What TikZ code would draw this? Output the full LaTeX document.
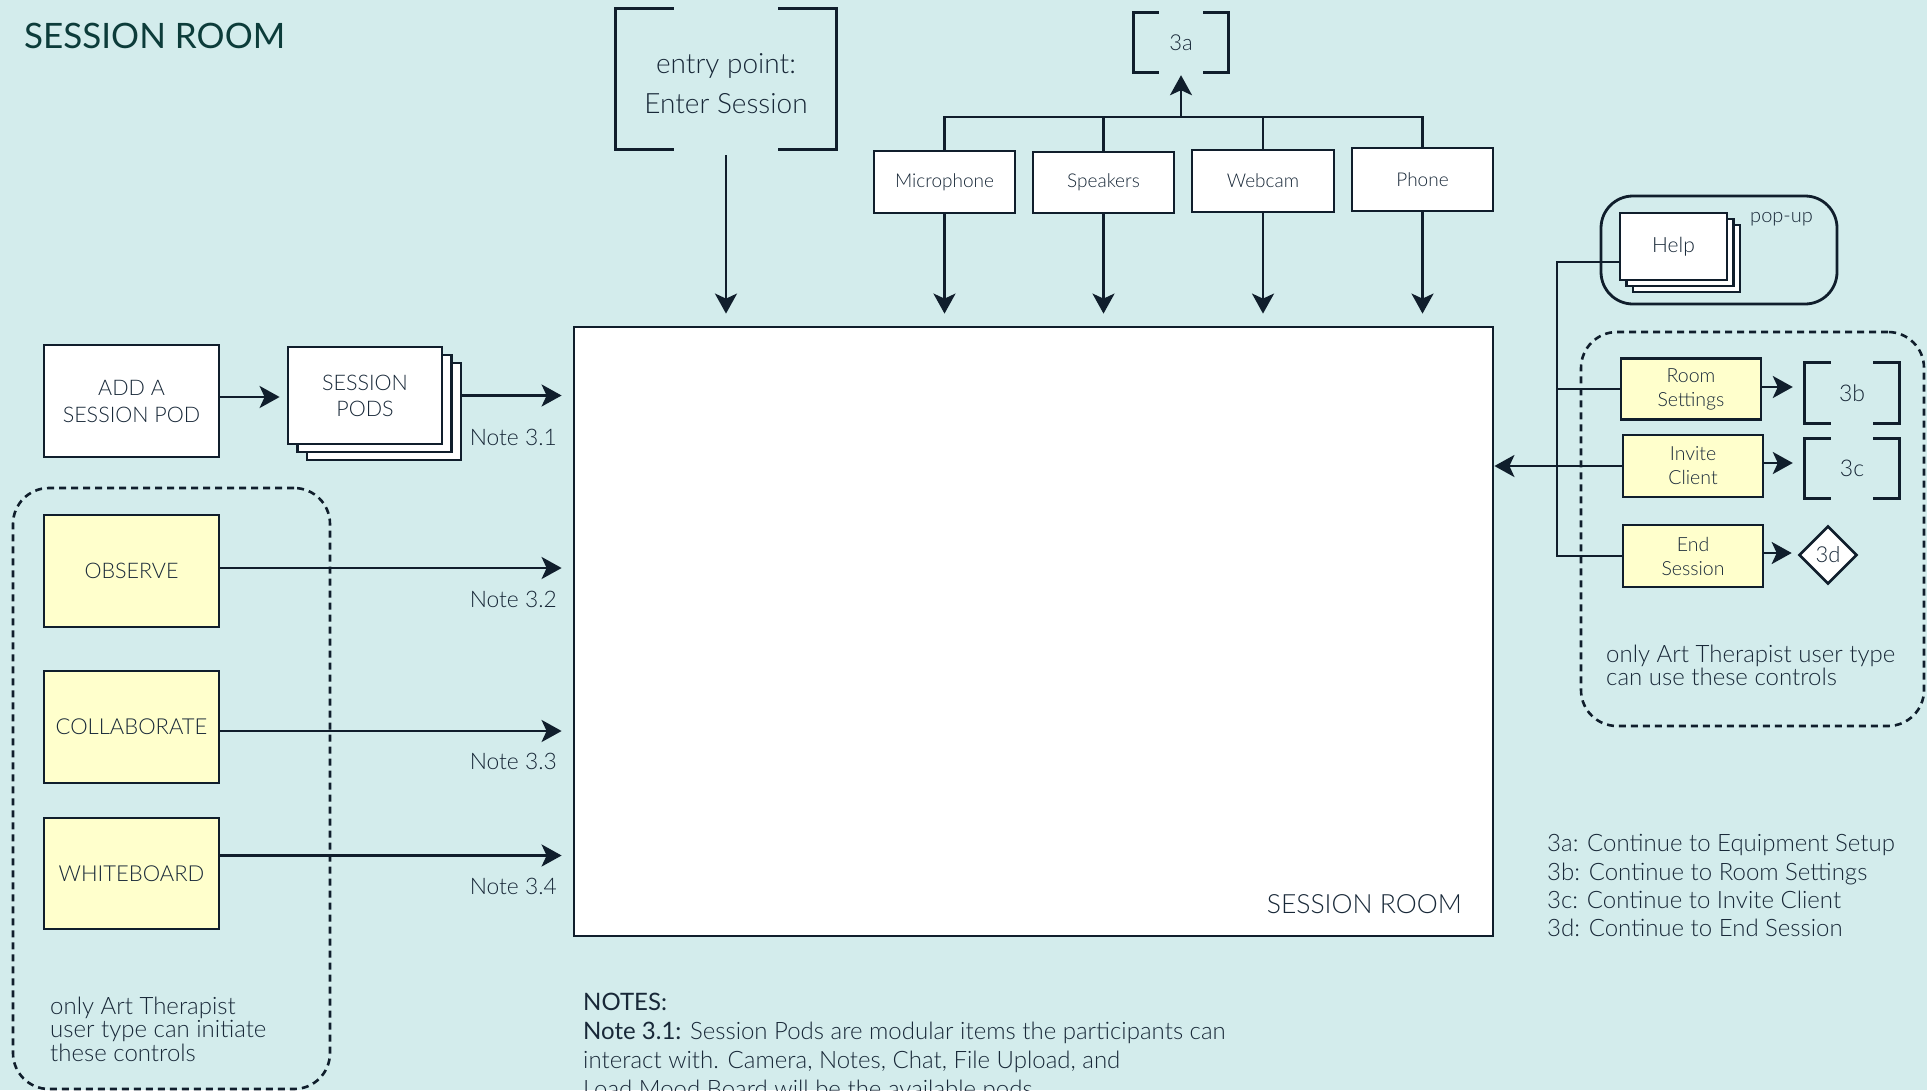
\documentclass[tikz,border=0pt]{standalone}
\usepackage{fontspec}
\IfFontExistsTF{Lato Light}
  {\setmainfont{Lato Light}[BoldFont={Lato}]}
  {\setmainfont{Lato}}
\usetikzlibrary{arrows.meta,shapes.geometric,shadows}

\definecolor{bg}{RGB}{211,236,236}
\definecolor{ink}{RGB}{16,30,44}
\definecolor{txt}{RGB}{24,40,56}
\definecolor{titlec}{RGB}{12,60,58}
\definecolor{pale}{RGB}{255,255,204}

\newcommand\fs[2]{\fontsize{#1}{#2}\selectfont}
% open square brackets drawn around a (borderless) node
\newcommand\sqbrackets[2]{%
  \draw[brkt] ([xshift=#2]#1.north west) -- (#1.north west) -- (#1.south west) -- ([xshift=#2]#1.south west);
  \draw[brkt] ([xshift=-#2]#1.north east) -- (#1.north east) -- (#1.south east) -- ([xshift=-#2]#1.south east);}

\begin{document}
\begin{tikzpicture}[x=1pt,y=-1pt]
\tikzset{
  box/.style={draw=ink, line width=2.8pt, fill=white, inner sep=0pt, align=center, text=txt},
  ybox/.style={box, fill=pale},
  conn/.style={draw=ink, line width=2.6pt},
  arr/.style={conn, -{Stealth[length=20pt, width=22pt, inset=5pt]}},
  brkt/.style={draw=ink, line width=2.8pt},
  grp/.style={draw=ink, line width=2.6pt, dash pattern=on 7pt off 5pt, rounded corners=36pt, inner sep=0pt},
  lbl/.style={inner sep=0pt, text=txt},
}
\clip (0,0) rectangle (1927,1090);
\fill[bg] (0,0) rectangle (1927,1090);

% dashed groups and the pop-up frame
\node[grp, minimum width=317pt, minimum height=601pt] (lgrp) at (171.5,788.5) {};
\node[grp, minimum width=343pt, minimum height=394pt] (rgrp) at (1752.5,529) {};
\node[draw=ink, line width=2.8pt, rounded corners=32pt, inner sep=0pt,
      minimum width=236pt, minimum height=108pt] (popup) at (1719,250) {};

% title
\node[lbl, anchor=base west, text=titlec, font=\bfseries\fs{35}{40}] (title) at (24,48) {SESSION ROOM};

% entry point and equipment
\node[lbl, minimum width=220pt, minimum height=140pt] (entry) at (726,79) {};
\node[lbl, align=center, font=\fs{28}{40}] (entrytxt) at ([yshift=-5pt]entry.center) {entry point:\\Enter Session};
\sqbrackets{entry}{58pt}
\node[lbl, minimum width=94pt, minimum height=59pt, font=\fs{22}{26}] (a3) at (1181,42.5) {3a};
\sqbrackets{a3}{25pt}

\node[box, minimum width=141pt, minimum height=62pt, font=\fs{19}{22}] (mic) at (944.5,182) {Microphone};
\node[box, minimum width=141pt, minimum height=61pt, font=\fs{19}{22}] (spk) at (1103.5,182.5) {Speakers};
\node[box, minimum width=142pt, minimum height=62pt, font=\fs{19}{22}] (cam) at (1263,181) {Webcam};
\node[box, minimum width=141pt, minimum height=63pt, font=\fs{19}{22}] (phone) at (1422.5,179.5) {Phone};
\coordinate (bus) at (0,117);

% session room
\node[box, minimum width=919pt, minimum height=609pt] (main) at (1033.5,631.5) {};
\node[lbl, anchor=base east, font=\fs{26.5}{30}] (mainlbl) at (1462,913) {SESSION ROOM};

% left column
\node[box, minimum width=175pt, minimum height=112pt, font=\fs{21.5}{27}] (addpod) at (131.5,401) {ADD A\\SESSION POD};
\node[box, minimum width=154pt, minimum height=97pt, font=\fs{21.5}{26},
      double copy shadow={shadow xshift=9.5pt, shadow yshift=-8pt}] (pods) at (365,395.5) {SESSION\\PODS};
\node[ybox, minimum width=175pt, minimum height=112pt, font=\fs{21.5}{24}] (observe) at (131.5,571) {OBSERVE};
\node[ybox, minimum width=175pt, minimum height=112pt, font=\fs{22}{24}] (collab) at (131.5,727) {COLLABORATE};
\node[ybox, minimum width=175pt, minimum height=111pt, font=\fs{22}{24}] (wboard) at (131.5,873.5) {WHITEBOARD};
\node[lbl, anchor=north west, align=left, font=\fs{24}{23.7}] (lnote) at (50,996.5) {only Art Therapist\\user type can initiate\\these controls};

\node[lbl, anchor=base east, font=\fs{22.8}{24}] (n31) at (557,445) {Note 3.1};
\node[lbl, anchor=base east, font=\fs{22.8}{24}] (n32) at (557,607) {Note 3.2};
\node[lbl, anchor=base east, font=\fs{22.8}{24}] (n33) at (557,769) {Note 3.3};
\node[lbl, anchor=base east, font=\fs{22.8}{24}] (n34) at (557,894) {Note 3.4};

% right column
\node[box, minimum width=107pt, minimum height=67pt, font=\fs{21}{24},
      double copy shadow={shadow xshift=6.5pt, shadow yshift=-6pt}] (help) at (1673.5,246.5) {Help};
\node[lbl, anchor=base west, font=\fs{20}{22}] (poplbl) at (1750,222) {pop-up};
\node[ybox, minimum width=140pt, minimum height=61pt, font=\fs{19.5}{24}] (room) at (1691,389) {Room\\Settings};
\node[ybox, minimum width=140pt, minimum height=62pt, font=\fs{19.5}{24}] (invite) at (1693,466) {Invite\\Client};
\node[ybox, minimum width=140pt, minimum height=62pt, font=\fs{19.5}{24}] (endsess) at (1693,556) {End\\Session};
\node[lbl, minimum width=94pt, minimum height=60pt, font=\fs{23}{26}] (b3) at (1852,393) {3b};
\sqbrackets{b3}{26pt}
\node[lbl, minimum width=94pt, minimum height=59pt, font=\fs{23}{26}] (c3) at (1852,468.5) {3c};
\sqbrackets{c3}{26pt}
\node[diamond, draw=ink, line width=2.6pt, fill=white, inner sep=0pt, text=txt,
      minimum width=58pt, minimum height=58pt, font=\fs{22}{24}] (d3) at (1828,555) {3d};
\node[lbl, anchor=north west, align=left, font=\fs{24}{23}] (rnote) at (1606,644.5) {only Art Therapist user type\\can use these controls};
\coordinate (rbus) at (1557,0);

% legend and notes
\node[lbl, anchor=north west, align=left, font=\fs{24}{28.3}] (legend) at (1547,834.5) {3a: Continue to Equipment Setup\\3b: Continue to Room Settings\\3c: Continue to Invite Client\\3d: Continue to End Session};
\node[lbl, anchor=north west, align=left, font=\fs{24}{29}] (notes) at (583,993) {\textbf{NOTES:}\\\textbf{Note 3.1:} Session Pods are modular items the participants can\\interact with. Camera, Notes, Chat, File Upload, and\\Load Mood Board will be the available pods.};

% connectors: top
\draw[arr, shorten >=12pt] ([yshift=-6pt]entry.south) -- (entry.south |- main.north);
\foreach \n in {mic,spk,cam,phone}
  \draw[arr, shorten >=12pt] (\n.south) -- (\n.south |- main.north);
\draw[conn] (mic.north) -- (mic.north |- bus) -- (phone.north |- bus) -- (phone.north);
\draw[conn] (spk.north) -- (spk.north |- bus);
\draw[conn] (cam.north) -- (cam.north |- bus);
\draw[arr, shorten >=3pt] (a3.south |- bus) -- (a3.south);

% connectors: left
\draw[arr, shorten >=7pt] ([yshift=4pt]addpod.east) -- ([yshift=4pt]addpod.east -| pods.west);
\draw[arr, shorten >=11pt] ([xshift=19pt]pods.east) -- (pods.east -| main.west);
\draw[arr, shorten >=11pt] ([yshift=3pt]observe.east) -- ([yshift=3pt]observe.east -| main.west);
\draw[arr, shorten >=11pt] ([yshift=-4pt]collab.east) -- ([yshift=-4pt]collab.east -| main.west);
\draw[arr, shorten >=11pt] ([yshift=18pt]wboard.east) -- ([yshift=18pt]wboard.east -| main.west);

% connectors: right
\draw[conn] ([yshift=-15.5pt]help.west) -| (rbus |- endsess.west) -- (endsess.west);
\draw[conn] (room.west) -- (room.west -| rbus);
\draw[arr] (invite.west) -- (invite.west -| main.east);
\draw[arr, shorten >=12pt] ([yshift=2pt]room.east) -- ([yshift=2pt]room.east -| b3.west);
\draw[arr, shorten >=12pt] ([yshift=3pt]invite.east) -- ([yshift=3pt]invite.east -| c3.west);
\draw[arr, shorten >=6pt] ([yshift=3pt]endsess.east) -- ([yshift=3pt]endsess.east -| d3.west);
\end{tikzpicture}
\end{document}
